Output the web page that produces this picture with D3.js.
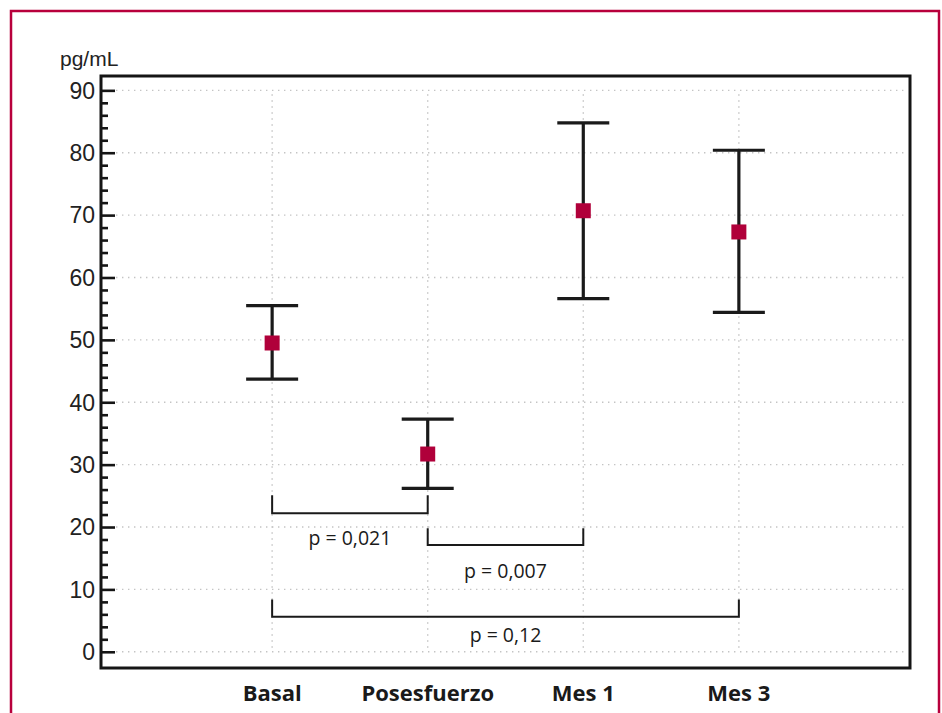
<!DOCTYPE html>
<html><head><meta charset="utf-8">
<script src="https://cdn.jsdelivr.net/npm/d3@7"></script>
<style>body{margin:0;background:#fff}svg{display:block}</style>
</head><body>
<svg id="c" width="942" height="713"></svg>
<script>
const categories = ["Basal", "Posesfuerzo", "Mes 1", "Mes 3"];
const means = [49.5, 31.7, 70.7, 67.3];
const upper = [55.5, 37.3, 84.8, 80.4];
const lower = [43.7, 26.2, 56.6, 54.4];
const yTicks = [0, 10, 20, 30, 40, 50, 60, 70, 80, 90];
const yUnit = "pg/mL";
const comparisons = [
  {from: "Basal", to: "Posesfuerzo", top: 25.1, bar: 22.2, label: "p = 0,021", labelY: 17.1},
  {from: "Posesfuerzo", to: "Mes 1", top: 19.8, bar: 17.1, label: "p = 0,007", labelY: 11.9},
  {from: "Basal", to: "Mes 3", top: 8.4, bar: 5.6, label: "p = 0,12", labelY: 1.6}
];

const svg = d3.select("#c");
const L = 101, R = 910, T = 76, B = 668;
const x = d3.scalePoint().domain(categories).range([L, R]).padding(1.1);
const y = d3.scaleLinear().domain([-2.6, 92.3]).range([B, T]);

// outer red border
svg.append("rect").attr("x", 11).attr("y", 11).attr("width", 928).attr("height", 720)
  .attr("fill", "none").attr("stroke", "#b8003c").attr("stroke-width", 2.5);

const dotted = {stroke: "#c4c4c4", "stroke-width": 1.4, "stroke-dasharray": "1.4,4.6"};
// horizontal grid
svg.append("g").selectAll("line").data(yTicks).join("line")
  .attr("x1", L + 15).attr("x2", R - 2).attr("y1", d => y(d)).attr("y2", d => y(d))
  .attr("stroke", dotted.stroke).attr("stroke-width", dotted["stroke-width"]).attr("stroke-dasharray", dotted["stroke-dasharray"]);
// vertical grid
svg.append("g").selectAll("line").data(categories).join("line")
  .attr("x1", d => x(d)).attr("x2", d => x(d)).attr("y1", y(90) + 4).attr("y2", y(0))
  .attr("stroke", dotted.stroke).attr("stroke-width", dotted["stroke-width"]).attr("stroke-dasharray", dotted["stroke-dasharray"]);

// frame
svg.append("rect").attr("x", L).attr("y", T).attr("width", R - L).attr("height", B - T)
  .attr("fill", "none").attr("stroke", "#151515").attr("stroke-width", 3);

// y axis ticks (inward)
const minor = d3.range(0, 91, 2).filter(v => v % 10 !== 0);
const yAxisMajor = d3.axisRight(y).tickValues(yTicks).tickSize(14).tickFormat("");
const gMaj = svg.append("g").attr("transform", `translate(${L},0)`).call(yAxisMajor);
gMaj.select(".domain").remove();
gMaj.selectAll("line").attr("stroke", "#151515").attr("stroke-width", 2.6);
const gMin = svg.append("g").attr("transform", `translate(${L},0)`)
  .call(d3.axisRight(y).tickValues(minor).tickSize(7).tickFormat(""));
gMin.select(".domain").remove();
gMin.selectAll("line").attr("stroke", "#151515").attr("stroke-width", 2.6);

// tick labels
svg.append("g").selectAll("text").data(yTicks).join("text")
  .attr("x", L - 6).attr("y", d => y(d)).attr("dy", "0.36em")
  .attr("text-anchor", "end").attr("font-family", "Liberation Sans, Arial, sans-serif")
  .attr("font-size", 23).attr("fill", "#222").text(d => d);
svg.append("text").attr("x", 60).attr("y", 66).attr("font-family", "Liberation Sans, Arial, sans-serif")
  .attr("font-size", 21).attr("fill", "#222").text(yUnit);

// category labels
svg.append("g").selectAll("text").data(categories).join("text")
  .attr("x", d => x(d)).attr("y", 701).attr("text-anchor", "middle")
  .attr("font-family", "Open Sans, sans-serif").attr("font-weight", "bold")
  .attr("font-size", 22).attr("fill", "#1a1a1a").text(d => d);

// error bars
const eb = svg.append("g");
const idx = d3.range(categories.length);
eb.selectAll("line.v").data(idx).join("line")
  .attr("x1", i => x(categories[i])).attr("x2", i => x(categories[i]))
  .attr("y1", i => y(upper[i])).attr("y2", i => y(lower[i]))
  .attr("stroke", "#1a1a1a").attr("stroke-width", 3.2);
eb.selectAll("line.u").data(idx).join("line")
  .attr("x1", i => x(categories[i]) - 26).attr("x2", i => x(categories[i]) + 26)
  .attr("y1", i => y(upper[i])).attr("y2", i => y(upper[i]))
  .attr("stroke", "#1a1a1a").attr("stroke-width", 3.2);
eb.selectAll("line.l").data(idx).join("line")
  .attr("x1", i => x(categories[i]) - 26).attr("x2", i => x(categories[i]) + 26)
  .attr("y1", i => y(lower[i])).attr("y2", i => y(lower[i]))
  .attr("stroke", "#1a1a1a").attr("stroke-width", 3.2);
eb.selectAll("rect").data(idx).join("rect")
  .attr("x", i => x(categories[i]) - 7.5).attr("y", i => y(means[i]) - 7.5)
  .attr("width", 15).attr("height", 15).attr("fill", "#b0003a");

// comparison brackets
const br = svg.append("g");
comparisons.forEach(c => {
  const x1 = x(c.from), x2 = x(c.to);
  br.append("path")
    .attr("d", `M${x1},${y(c.top)}V${y(c.bar)}H${x2}V${y(c.top)}`)
    .attr("fill", "none").attr("stroke", "#1a1a1a").attr("stroke-width", 2);
  br.append("text").attr("x", (x1 + x2) / 2).attr("y", y(c.labelY))
    .attr("text-anchor", "middle").attr("font-family", "Open Sans, sans-serif")
    .attr("font-size", 19.5).attr("fill", "#1a1a1a").text(c.label);
});
</script>
</body></html>
